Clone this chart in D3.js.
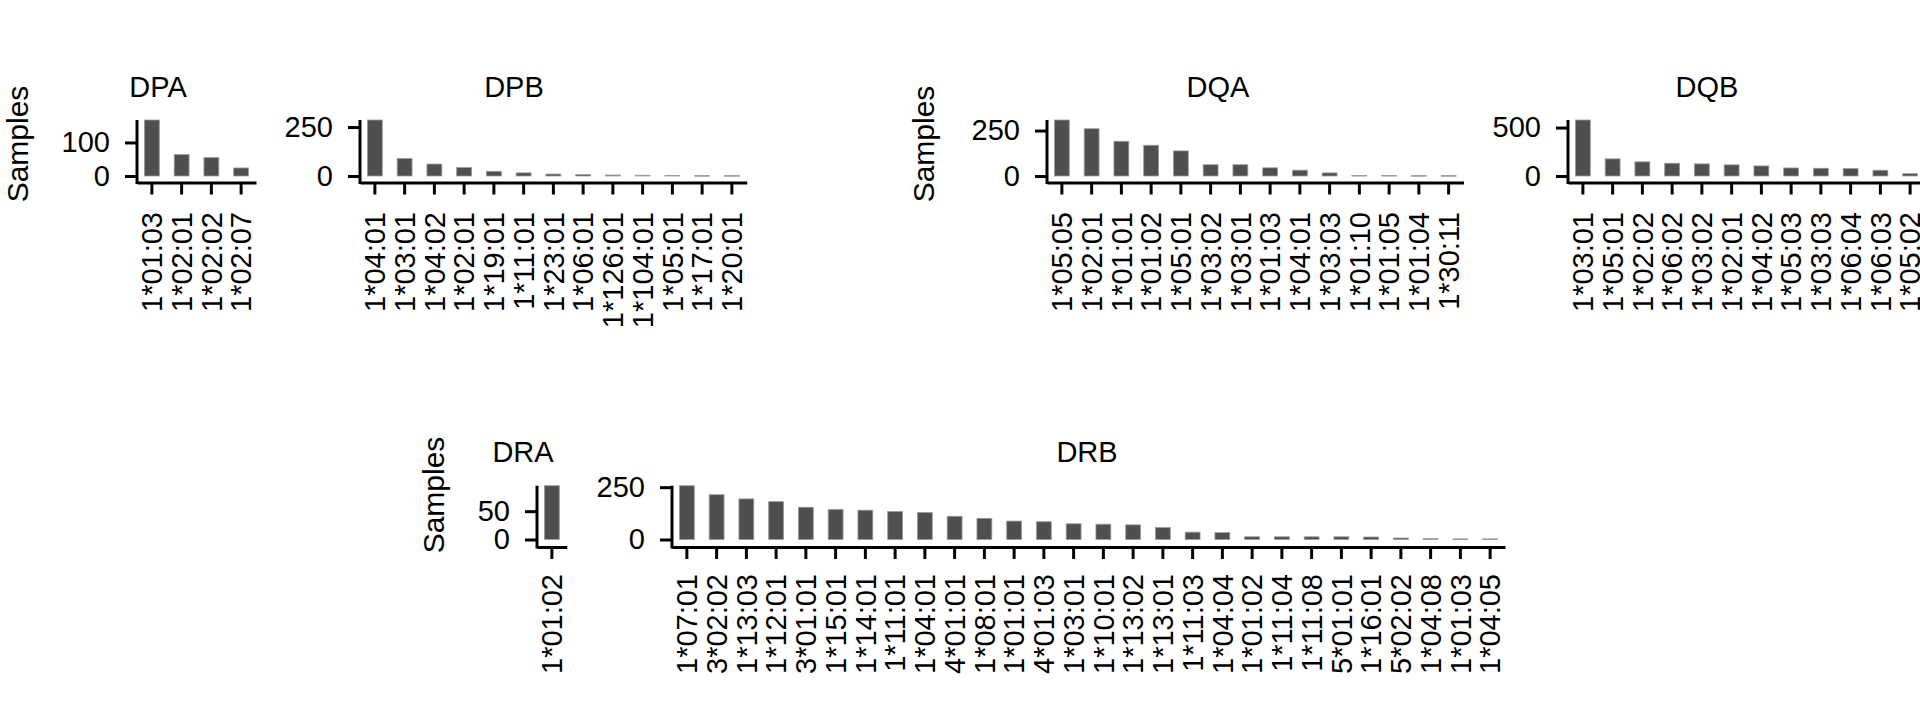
<!DOCTYPE html>
<html>
<head>
<meta charset="utf-8">
<script src="https://cdn.jsdelivr.net/npm/d3@7"></script>
<style>
  body { margin: 0; background: #fff; }
  svg text { font-family: "Liberation Sans", Arial, sans-serif; fill: #000; }
</style>
</head>
<body>
<script>
// ---- data -------------------------------------------------------------
var dpaAlleles = ["1*01:03", "1*02:01", "1*02:02", "1*02:07"]
var dpaSamples = [167, 64, 55, 24]
var dpaTicks = [0, 100]

var dpbAlleles = ["1*04:01", "1*03:01", "1*04:02", "1*02:01", "1*19:01", "1*11:01", "1*23:01",
                  "1*06:01", "1*126:01", "1*104:01", "1*05:01", "1*17:01", "1*20:01"]
var dpbSamples = [286, 90, 61, 43, 24, 16, 10, 7, 5, 4, 3, 2, 2]
var dpbTicks = [0, 250]

var dqaAlleles = ["1*05:05", "1*02:01", "1*01:01", "1*01:02", "1*05:01", "1*03:02", "1*03:01",
                  "1*01:03", "1*04:01", "1*03:03", "1*01:10", "1*01:05", "1*01:04", "1*30:11"]
var dqaSamples = [308, 260, 191, 169, 138, 62, 62, 45, 32, 17, 3, 3, 2, 2]
var dqaTicks = [0, 250]

var dqbAlleles = ["1*03:01", "1*05:01", "1*02:02", "1*06:02", "1*03:02", "1*02:01", "1*04:02",
                  "1*05:03", "1*03:03", "1*06:04", "1*06:03", "1*05:02"]
var dqbSamples = [578, 177, 146, 132, 125, 115, 104, 83, 80, 77, 59, 24]
var dqbTicks = [0, 500]

var draAlleles = ["1*01:02"]
var draSamples = [95]
var draTicks = [0, 50]

var drbAlleles = ["1*07:01", "3*02:02", "1*13:03", "1*12:01", "3*01:01", "1*15:01", "1*14:01",
                  "1*11:01", "1*04:01", "4*01:01", "1*08:01", "1*01:01", "4*01:03", "1*03:01",
                  "1*10:01", "1*13:02", "1*13:01", "1*11:03", "1*04:04", "1*01:02", "1*11:04",
                  "1*11:08", "5*01:01", "1*16:01", "5*02:02", "1*04:08", "1*01:03", "1*04:05"]
var drbSamples = [257, 214, 194, 181, 154, 144, 140, 134, 129, 111, 101, 88, 85, 75,
                  73, 70, 57, 35, 33, 13, 13, 13, 13, 12, 7, 4, 3, 3]
var drbTicks = [0, 250]

// ---- layout ------------------------------------------------------------
var W = 1920, H = 702
var step = 29.75   // width of one category slot

// vertical positions of the two rows
var rows = {
  top:    { topY: 120,   zeroY: 176,   axisY: 182.5, titleY: 97,  labelGap: 29.5 },
  bottom: { topY: 485.7, zeroY: 539.5, axisY: 547,   titleY: 462, labelGap: 27 }
}

var panels = [
  { name: "DPA", alleles: dpaAlleles, samples: dpaSamples, ticks: dpaTicks, row: "top",    x0: 137,  titleX: 158 },
  { name: "DPB", alleles: dpbAlleles, samples: dpbSamples, ticks: dpbTicks, row: "top",    x0: 360,  titleX: 514 },
  { name: "DQA", alleles: dqaAlleles, samples: dqaSamples, ticks: dqaTicks, row: "top",    x0: 1047, titleX: 1218 },
  { name: "DQB", alleles: dqbAlleles, samples: dqbSamples, ticks: dqbTicks, row: "top",    x0: 1568, titleX: 1707 },
  { name: "DRA", alleles: draAlleles, samples: draSamples, ticks: draTicks, row: "bottom", x0: 537,  titleX: 523 },
  { name: "DRB", alleles: drbAlleles, samples: drbSamples, ticks: drbTicks, row: "bottom", x0: 672,  titleX: 1087 }
]

// shared "Samples" labels, one per group of plots
var yLabels = [
  { x: 17,  y: 144 },
  { x: 923, y: 144 },
  { x: 433, y: 495 }
]

var svg = d3.select("body")
  .append("svg")
    .attr("width", W)
    .attr("height", H)

svg.append("rect").attr("width", W).attr("height", H).attr("fill", "#fff")

for (var p in panels) {
  makePanel(panels[p])
}

yLabels.forEach(function(l) {
  svg.append("text")
    .attr("transform", "translate(" + l.x + "," + l.y + ")rotate(-90)")
    .attr("text-anchor", "middle")
    .attr("dy", "0.35em")
    .attr("font-size", 30)
    .text("Samples")
})

function makePanel(panel) {
  var row = rows[panel.row]
  var n = panel.alleles.length

  var g = svg.append("g")

  // scales
  var xScale = d3.scaleBand()
    .domain(panel.alleles)
    .range([panel.x0, panel.x0 + n * step])
    .paddingInner(0.5)
    .paddingOuter(0.25)

  var yMax = d3.max(panel.samples)
  var yScale = d3.scaleLinear()
    .domain([0, yMax])
    .range([row.zeroY, row.topY])

  // bars
  g.selectAll("rect.bar")
    .data(panel.samples)
    .enter()
    .append("rect")
      .attr("class", "bar")
      .attr("x", function(d, i) { return xScale(panel.alleles[i]) })
      .attr("y", function(d) { return yScale(d) })
      .attr("width", xScale.bandwidth())
      .attr("height", function(d) { return Math.max(0.6, yScale(0) - yScale(d)) })
      .attr("fill", "#4f4f4f")
      .attr("stroke", "#9c9c9c")
      .attr("stroke-width", 0.8)

  // x axis
  var xAxis = g.append("g")
    .attr("transform", "translate(0," + row.axisY + ")")
    .call(d3.axisBottom(xScale).tickSize(12).tickSizeOuter(0))
  xAxis.attr("font-size", 29).attr("font-family", null)
  xAxis.select(".domain").attr("stroke-width", 3)
  xAxis.selectAll(".tick line").attr("stroke-width", 3)
  xAxis.selectAll(".tick text")
    .attr("transform", "rotate(-90)")
    .attr("x", -row.labelGap)
    .attr("y", 0)
    .attr("dy", "0.35em")
    .style("text-anchor", "end")

  // y axis
  var yAxis = g.append("g")
    .attr("transform", "translate(" + panel.x0 + ",0)")
    .call(d3.axisLeft(yScale).tickValues(panel.ticks).tickSize(12).tickPadding(15))
  yAxis.attr("font-size", 29).attr("font-family", null)
  yAxis.select(".domain").remove()
  yAxis.selectAll(".tick line").attr("stroke-width", 3)
  yAxis.append("line")
    .attr("x1", 0).attr("x2", 0)
    .attr("y1", yScale(yMax))
    .attr("y2", row.axisY + 1.5)
    .attr("stroke", "#000")
    .attr("stroke-width", 3)

  // title
  g.append("text")
    .attr("x", panel.titleX)
    .attr("y", row.titleY)
    .attr("text-anchor", "middle")
    .attr("font-size", 29)
    .text(panel.name)
}
</script>
</body>
</html>
